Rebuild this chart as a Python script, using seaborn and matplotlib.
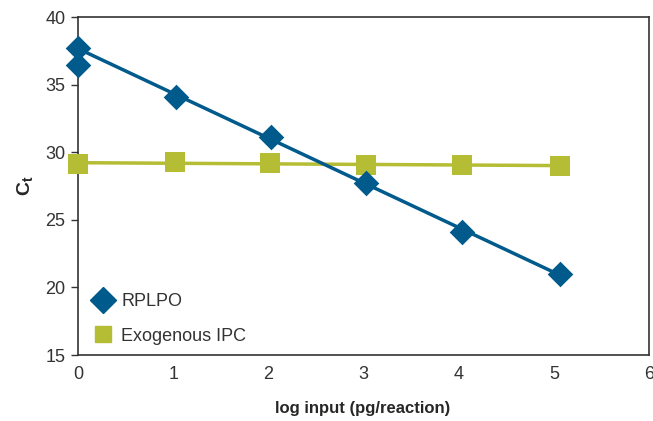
import matplotlib
matplotlib.use("Agg")
import matplotlib.pyplot as plt
import seaborn as sns
import numpy as np
import pandas as pd
from matplotlib.lines import Line2D

# Data
rplpo_x = [0.0, 1.03, 2.03, 3.03, 4.04, 5.06]
rplpo_y = [37.7, 34.1, 31.1, 27.72, 24.1, 21.0]
rplpo_extra_x = [0.0]          # replicate not included in the trend line
rplpo_extra_y = [36.45]
ipc_x = [0.0, 1.02, 2.02, 3.03, 4.04, 5.06]
ipc_y = [29.15, 29.25, 29.2, 29.05, 29.05, 29.0]
series_names = ["RPLPO", "Exogenous IPC"]
x_ticks = [0, 1, 2, 3, 4, 5, 6]
y_ticks = [15, 20, 25, 30, 35, 40]

blue = "#005a8c"
green = "#b4bd33"

sns.set_style("white")
plt.rcParams['font.family'] = ['Liberation Sans', 'DejaVu Sans']

fig = plt.figure(figsize=(6.53, 4.21), dpi=100)
ax = fig.add_axes([78/653, 1-355/421, (649-78)/653, (355-17)/421])

df_r = pd.DataFrame({"x": rplpo_x, "y": rplpo_y})
df_r_all = pd.DataFrame({"x": rplpo_x + rplpo_extra_x, "y": rplpo_y + rplpo_extra_y})
df_i = pd.DataFrame({"x": ipc_x, "y": ipc_y})

sns.regplot(data=df_i, x="x", y="y", ax=ax, ci=None, truncate=True, marker="s",
            scatter_kws=dict(s=190, color=green, linewidths=0, alpha=1, zorder=3, clip_on=False),
            line_kws=dict(color=green, lw=2.5, zorder=2))
sns.regplot(data=df_r, x="x", y="y", ax=ax, ci=None, truncate=True, scatter=False,
            line_kws=dict(color=blue, lw=2.5, zorder=4))
sns.scatterplot(data=df_r_all, x="x", y="y", ax=ax, marker="D", s=170, color=blue,
                linewidth=0, zorder=5, clip_on=False)

ax.set_xlim(0, 6)
ax.set_ylim(15, 40)
ax.set_xticks(x_ticks)
ax.set_yticks(y_ticks)
ax.tick_params(axis='x', length=0, pad=8, labelsize=13, labelcolor="#333333")
ax.tick_params(axis='y', length=5, width=1, color="#333333", direction='out', left=True,
               pad=4, labelsize=13, labelcolor="#333333")
for s in ax.spines.values():
    s.set_color("#333333")
    s.set_linewidth(1.2)

ax.set_xlabel("log input (pg/reaction)", fontsize=12, fontweight="bold")
ax.xaxis.set_label_coords((363-78)/(649-78), -(408-355)/(355-17), transform=ax.transAxes)
ax.xaxis.label.set_va("center")
ax.set_ylabel("C$_\\mathregular{t}$", fontsize=14, fontweight="bold", labelpad=7)

handles = [
    Line2D([], [], marker="D", color=blue, linestyle="none", markersize=13),
    Line2D([], [], marker="s", color=green, linestyle="none", markersize=12),
]
ax.legend(handles, series_names, loc="center left",
          bbox_to_anchor=((94-78)/(649-78), (355-319)/(355-17)),
          frameon=False, fontsize=13, handlelength=1.0, handletextpad=0.5,
          labelspacing=0.95, borderaxespad=0.0, borderpad=0.0, labelcolor="#333333")

fig.savefig("out.png", dpi=100)
